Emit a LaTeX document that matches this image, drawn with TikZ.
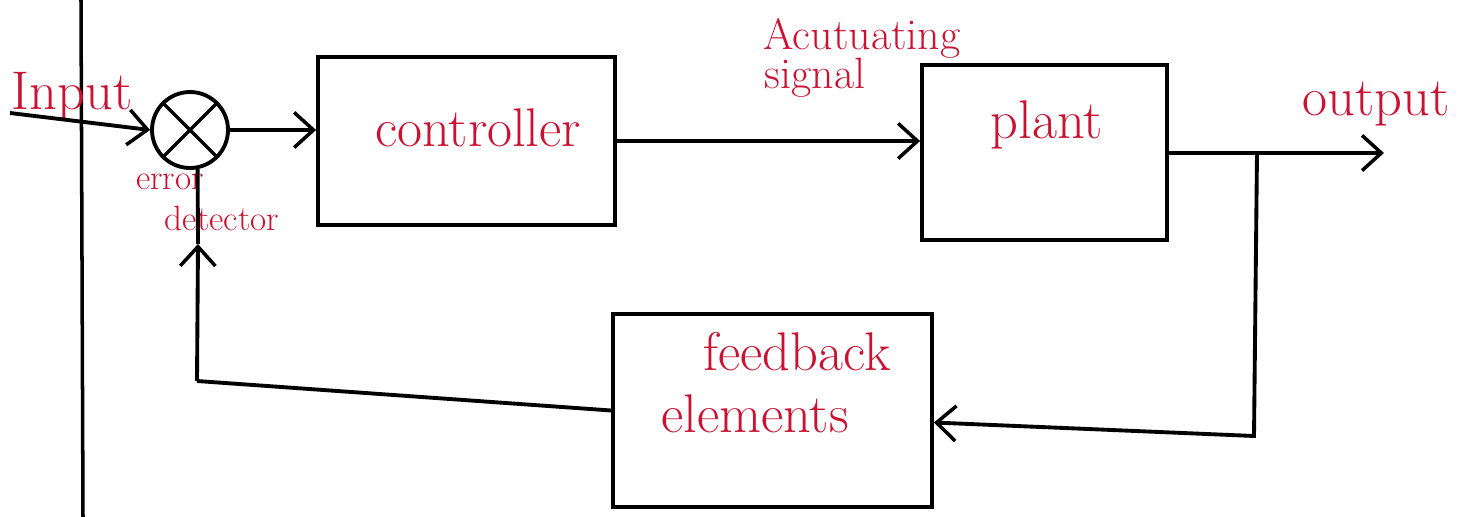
\documentclass[tikz,border=0pt]{standalone}
\usetikzlibrary{arrows.meta,calc}
\definecolor{handred}{RGB}{200,20,50}
\begin{document}
\begin{tikzpicture}[x=0.02cm,y=-0.02cm,
  wire/.style={line width=2.2pt,black},
  arr/.style={wire,-{Straight Barb[length=11pt,width=20pt,line width=2pt]}},
  box/.style={draw,line width=2.2pt,rectangle,inner sep=0pt},
  lbl/.style={text=handred,font=\fontsize{31}{34}\selectfont,inner sep=0pt},
  mlbl/.style={text=handred,font=\fontsize{25}{28}\selectfont,inner sep=0pt},
  slbl/.style={text=handred,font=\fontsize{20}{22}\selectfont,inner sep=0pt}]
\useasboundingbox (0,0) rectangle (1481,517);
% notebook margin line
\coordinate (mtop) at (81,0);
\coordinate (mbot) at (83,517);
\draw[line width=2pt] (mtop) -- (mbot);
% blocks
\node[box,circle,minimum size=1.52cm] (sum) at (190,130) {};
\draw[line width=2pt] (sum.45) -- (sum.225) (sum.135) -- (sum.315);
\node[box,minimum width=5.94cm,minimum height=3.36cm] (ctrl) at (466.5,141) {};
\node[box,minimum width=4.9cm,minimum height=3.5cm] (plant) at (1044.5,152.5) {};
\node[box,minimum width=6.38cm,minimum height=3.86cm] (fb) at (772.5,410.5) {};
% texts
\node[lbl] (tctrl) at (478,128) {controller};
\node[lbl] (tplant) at (1047,125) {plant};
\node[lbl] (tfb1) at (797,352) {feedback};
\node[lbl] (tfb2) at (755,414) {elements};
\node[lbl] (tin) at (72,96) {Input};
\node[lbl] (tout) at (1376,104) {output};
\node[mlbl] (tact1) at (862,38) {Acutuating};
\node[mlbl] (tact2) at (815,78) {signal};
\node[slbl] (terr1) at (170,182) {error};
\node[slbl] (terr2) at (222,218) {detector};
% connectors
\coordinate (inp) at (10,113);
\draw[arr] (inp) -- (sum.west);
\draw[arr] (sum.east) -- (ctrl.west |- sum.east);
\draw[arr] (ctrl.east) -- (ctrl.east -| plant.west);
\coordinate (outend) at (1384,153);
\coordinate (br) at (1257,153);
\coordinate (brd) at (1254,436);
\draw[arr] (plant.east |- outend) -- (outend);
\draw[arr] (br) -- (brd) -- ($(fb.east)+(0,12)$);
\coordinate (fbc) at (197,381);
\coordinate (fbm) at (198,244);
\draw[wire] (fb.west) -- (fbc);
\draw[arr] (fbc) -- (fbm);
\draw[wire] (fbm) -- (sum.-79);
\end{tikzpicture}
\end{document}
